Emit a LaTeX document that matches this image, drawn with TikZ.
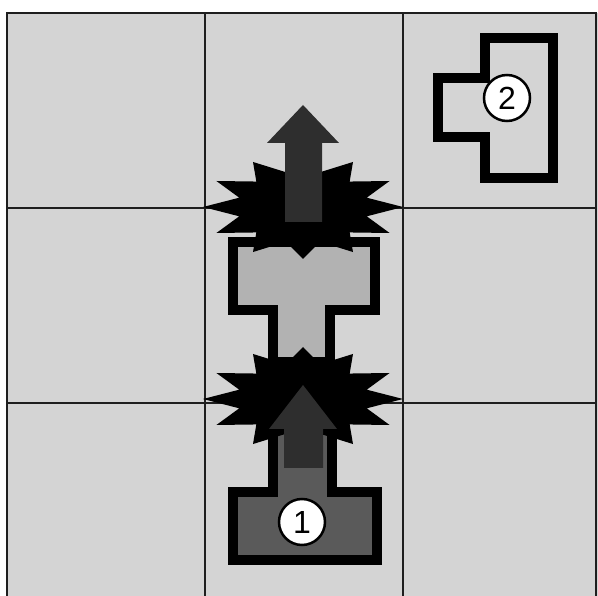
\documentclass[tikz,border=0pt]{standalone}
\usepackage{fontspec}
\setmainfont{Liberation Sans}
\definecolor{cellgray}{HTML}{D4D4D4}
\definecolor{gridline}{HTML}{1E1E1E}
\definecolor{piecedark}{HTML}{5A5A5A}
\definecolor{piecelight}{HTML}{B2B2B2}
\definecolor{arrowdark}{HTML}{2E2E2E}
\tikzset{
  gridstroke/.style={draw=gridline, line width=2.4pt},
  piece/.style={draw=black, line width=9.5pt, miter limit=10, line join=miter},
  burst/.style={fill=black, draw=none},
  movearrow/.style={fill=arrowdark, draw=none},
  numcircle/.style={circle, draw=black, fill=white, line width=2.5pt, minimum size=46pt, inner sep=0pt, font=\fontsize{32}{32}\selectfont},
}
\begin{document}
\begin{tikzpicture}[x=1pt,y=-1pt]
\useasboundingbox (0,0) rectangle (598,596);
\fill[white] (0,0) rectangle (598,596);
% board
\fill[cellgray] (7,13) rectangle (598,596);
\draw[gridstroke] (7,600) -- (7,13) -- (596,13) -- (596,600);
\draw[gridstroke] (205,13) -- (205,600);
\draw[gridstroke] (403,13) -- (403,600);
\draw[gridstroke] (7,208) -- (596,208);
\draw[gridstroke] (7,403) -- (596,403);
% piece 2 (top right)
\draw[piece, fill=cellgray] (485,38) -- (553,38) -- (553,178) -- (485,178) -- (485,137) -- (438,137) -- (438,78) -- (485,78) -- cycle;
% middle piece
\draw[piece, fill=piecelight] (233,242) -- (375,242) -- (375,310) -- (330,310) -- (330,362) -- (273,362) -- (273,310) -- (233,310) -- cycle;
% piece 1
\draw[piece, fill=piecedark] (233,560) -- (377,560) -- (377,492) -- (332,492) -- (332,370) -- (273,370) -- (273,492) -- (233,492) -- cycle;
% starbursts
\foreach \cy in {207,399}{
  \fill[burst] plot[samples at={0,15,...,345}, variable=\t]
    ({303+(mod(\t,30)==0 ? 100 : 66)*cos(\t)}, {\cy-(mod(\t,30)==0 ? 52 : 36)*sin(\t)}) -- cycle;
}
% arrows
\fill[movearrow] (303,105) -- (339,143) -- (322,143) -- (322,222) -- (285,222) -- (285,143) -- (267,143) -- cycle;
\fill[movearrow] (303,385) -- (337,429) -- (323,429) -- (323,468) -- (284,468) -- (284,429) -- (269,429) -- cycle;
% numbers
\node[numcircle] (n1) at (302,522) {1};
\node[numcircle] (n2) at (507,98) {2};
\end{tikzpicture}
\end{document}
